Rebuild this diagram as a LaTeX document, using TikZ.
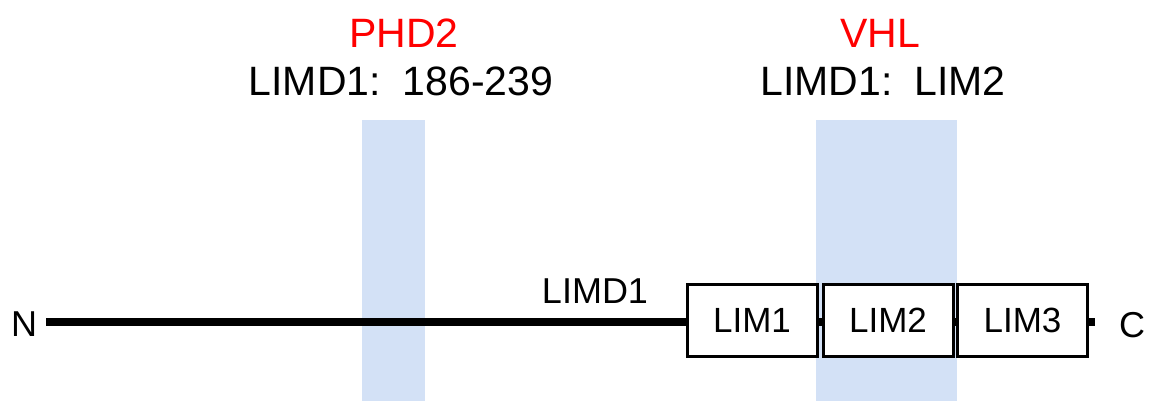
\documentclass[tikz,border=0pt]{standalone}
\usepackage{fontspec}
\setmainfont{Liberation Sans}
\definecolor{bandblue}{RGB}{211,225,246}
\definecolor{hdred}{RGB}{255,0,0}
\begin{document}
\begin{tikzpicture}[x=1pt,y=-1pt,
  band/.style={fill=bandblue,draw=none},
  hdr/.style={inner sep=0pt,anchor=base,font=\fontsize{41}{48}\selectfont},
  lbl/.style={inner sep=0pt,anchor=base,font=\fontsize{36}{42}\selectfont},
  dom/.style={draw=black,line width=3pt,fill=white,minimum width=130pt,minimum height=72pt,inner sep=0pt,font=\fontsize{35}{42}\selectfont},
  chain/.style={line width=8pt,black}]
\useasboundingbox (0,0) rectangle (1152,401);
% bands
\fill[band] (362,120) rectangle (425,401);
\fill[band] (816,120) rectangle (957,401);
% headers
\node[hdr,text=hdred] (phd) at (404,48) {PHD2};
\node[hdr] (phdr) at (401,96) {LIMD1:\, 186-239};
\node[hdr,text=hdred] (vhl) at (880,48) {VHL};
\node[hdr] (vhlr) at (883,96) {LIMD1:\, LIM2};
% labels
\node[lbl] (lab) at (595,303) {LIMD1};
\node[lbl] (nterm) at (24,336) {N};
\node[lbl] (cterm) at (1132,337) {C};
% coordinates
\coordinate (ls) at (46,322);
\coordinate (le) at (1095,322);
% domains
\node[dom] (l1) at (752,320.5) {LIM1};
\node[dom] (l2) at (888,320.5) {LIM2};
\node[dom] (l3) at (1022.5,320.5) {LIM3};
% chain
\draw[chain] (ls) -- (ls -| l1.west);
\draw[chain] (l1.east |- ls) -- (l2.west |- ls);
\draw[chain] (l2.east |- ls) -- (l3.west |- ls);
\draw[chain] (l3.east |- le) -- (le);
\end{tikzpicture}
\end{document}
